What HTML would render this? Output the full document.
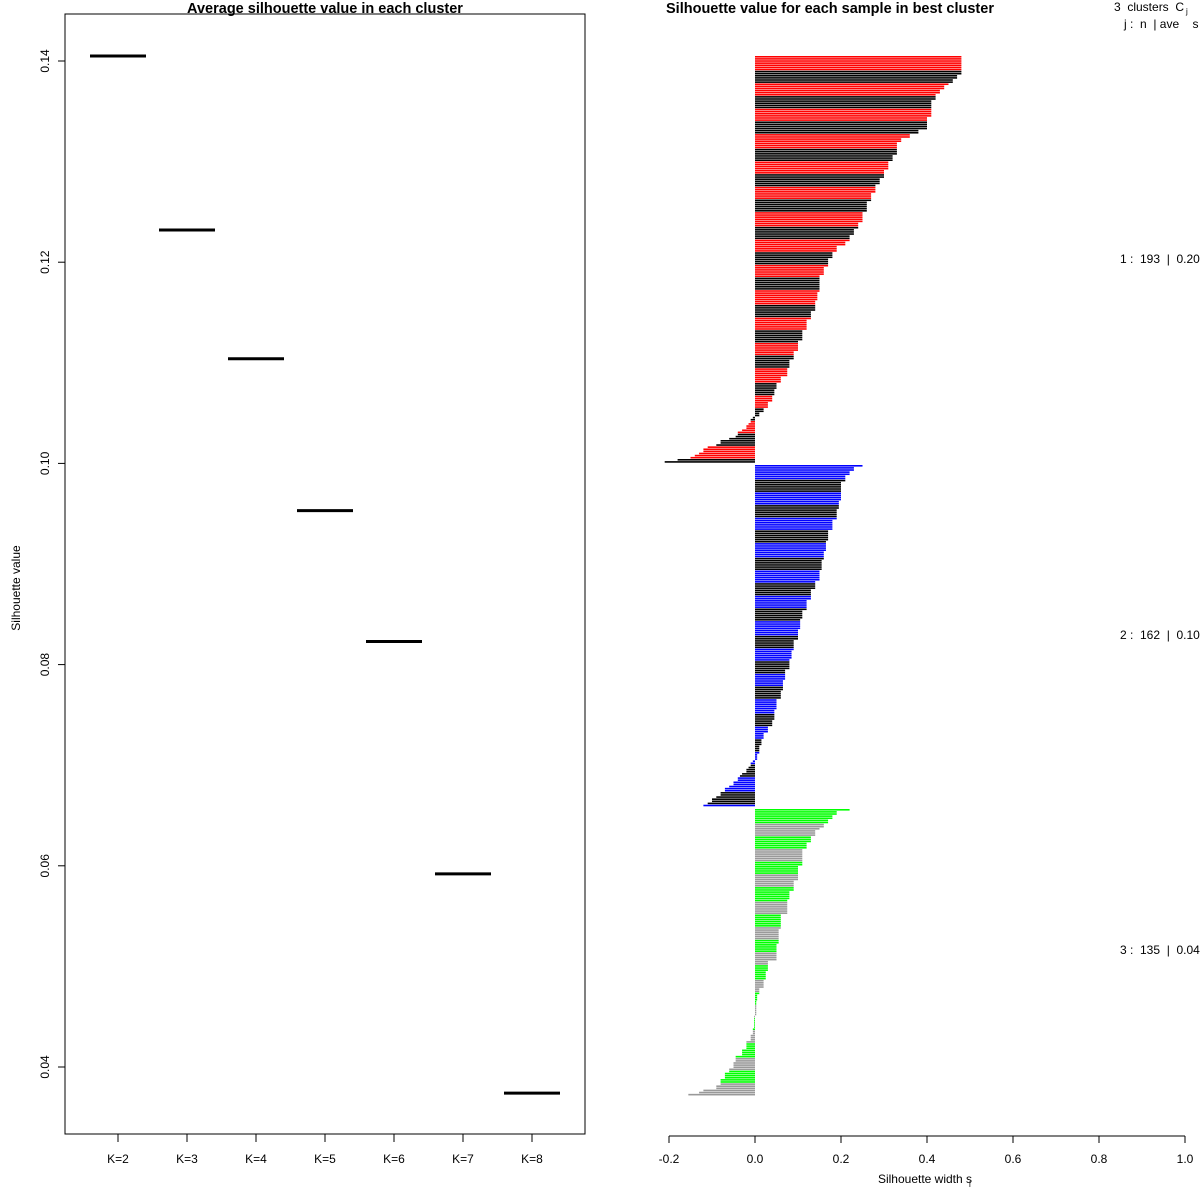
<!DOCTYPE html>
<html><head><meta charset="utf-8"><style>
html,body{margin:0;padding:0;background:#fff;}
svg{display:block;font-family:"Liberation Sans",sans-serif;}
text{white-space:pre;}
</style></head><body>
<svg id="chart" width="1200" height="1200" viewBox="0 0 1200 1200" xmlns="http://www.w3.org/2000/svg">
<g id="left"></g>
<g id="right"></g>
</svg>
<script>
// ---- left panel data ----
const kLabels = ["K=2","K=3","K=4","K=5","K=6","K=7","K=8"];
const avgSil = [0.1405,0.1232,0.1104,0.0953,0.0823,0.0592,0.0374];
const yTicks = [0.04,0.06,0.08,0.10,0.12,0.14];
const yTickLabels = ["0.04","0.06","0.08","0.10","0.12","0.14"];
// ---- right panel data (run-length: value & count per cluster) ----
const c1Vals = [.48,.47,.46,.45,.44,.43,.42,.41,.40,.38,.36,.34,.33,.32,.31,.30,.29,.28,.27,.26,.25,.24,.23,.22,.21,.19,.18,.17,.16,.15,.145,.14,.13,.12,.11,.10,.09,.08,.075,.06,.05,.045,.04,.03,.02,.01,
 -.005,-.01,-.01,-.015,-.02,-.02,-.03,-.04,-.04,-.045,-.06,-.08,-.08,-.09,-.11,-.12,-.12,-.13,-.14,-.15,-.18,-.21];
const c1Counts = [9,2,2,1,2,2,3,8,6,2,2,2,6,3,4,4,3,4,4,5,5,3,3,3,2,3,3,4,4,8,4,5,4,5,5,5,4,4,4,3,3,3,3,3,2,2,
 1,1,1,1,1,1,1,1,1,1,1,1,1,1,1,1,1,1,1,1,1,1];
const c2Vals = [.25,.23,.22,.21,.20,.195,.19,.18,.17,.165,.16,.155,.15,.14,.13,.12,.11,.105,.10,.09,.085,.08,.07,.065,.06,.05,.045,.04,.03,.02,.015,.01,.005,
 -.005,-.01,-.01,-.015,-.02,-.02,-.03,-.035,-.04,-.04,-.05,-.05,-.06,-.07,-.07,-.08,-.08,-.09,-.10,-.10,-.11,-.12];
const c2Counts = [1,2,2,3,9,4,5,5,5,5,4,5,5,4,5,5,4,5,5,5,4,5,5,5,4,5,5,3,3,3,3,4,3,
 1,1,1,1,1,1,1,1,1,1,1,1,1,1,1,1,1,1,1,1,1,1];
const c3Vals = [.22,.19,.18,.17,.16,.15,.14,.13,.12,.11,.10,.09,.08,.075,.06,.055,.05,.03,.025,.02,.01,.005,.003,
 -.002,-.005,-.01,-.02,-.03,-.045,-.05,-.06,-.07,-.08,-.09,-.12,-.13,-.155];
const c3Counts = [1,2,2,2,2,1,3,3,3,8,7,5,4,7,7,7,8,5,4,4,3,3,7,
 6,3,3,4,3,3,3,2,3,3,2,1,1,1];
const clusterLabels = ["1 :  193  |  0.20","2 :  162  |  0.10","3 :  135  |  0.04"];
const xTicks = [-0.2,0,0.2,0.4,0.6,0.8,1.0];
const xTickLabels = ["-0.2","0.0","0.2","0.4","0.6","0.8","1.0"];

const NS="http://www.w3.org/2000/svg";
function mk(parent, tag, attrs, text){
  const e=document.createElementNS(NS,tag);
  for(const k in attrs) e.setAttribute(k,attrs[k]);
  if(text!==undefined) e.textContent=text;
  parent.appendChild(e); return e;
}
const L=document.getElementById('left'), R=document.getElementById('right');

// ---------- left ----------
const yL = v => 61 + (0.14 - v) * 10060;
const xK = i => 118 + 69 * i;
let e;
e=mk(L,'rect',{x:65,y:14,width:520,height:1120,fill:'none',stroke:'#000','stroke-width':1});


e=mk(L,'text',{x:325,y:13,'text-anchor':'middle','font-size':14.5,'font-weight':'bold'},'Average silhouette value in each cluster');


yTicks.forEach((v,i)=>{
  const y=yL(v);
  e=mk(L,'line',{x1:58,x2:65,y1:y,y2:y,stroke:'#000'});
  
  
  e=mk(L,'text',{x:0,y:0,'text-anchor':'middle','font-size':12,transform:`translate(49,${y}) rotate(-90)`},yTickLabels[i]);
  
  
});
e=mk(L,'text',{x:0,y:0,'text-anchor':'middle','font-size':12,transform:'translate(20,588) rotate(-90)'},'Silhouette value');


e=mk(L,'line',{x1:xK(0),x2:xK(6),y1:1134,y2:1134,stroke:'#000'});


kLabels.forEach((k,i)=>{
  const x=xK(i);
  e=mk(L,'line',{x1:x,x2:x,y1:1134,y2:1142,stroke:'#000'});
  
  
  e=mk(L,'text',{x:x,y:1163,'text-anchor':'middle','font-size':12},k);
  
  
  const y=yL(avgSil[i]);
  e=mk(L,'line',{x1:x-28,x2:x+28,y1:y,y2:y,stroke:'#000','stroke-width':3});
  
  
});

// ---------- right ----------
const xR = v => 755 + v * 430;
const barH = 2.11;
const starts=[56,465,809];
const colors=['#ff0000','#0000ff','#00ff00'];
const alt=['#000','#000','#999'];
[[c1Vals,c1Counts],[c2Vals,c2Counts],[c3Vals,c3Counts]].forEach((c,ci)=>{
  let y=starts[ci];
  c[0].forEach((v,j)=>{
    for(let n=0;n<c[1][j];n++){
      const x0=Math.min(xR(0),xR(v)), w=Math.abs(xR(v)-xR(0));
      const band=Math.floor((y-starts[ci])/13)%2;
      e=mk(R,'rect',{x:x0,y:y,width:Math.max(w,0.8),height:1.6,fill:band?alt[ci]:colors[ci]});
      
      
      y+=barH;
    }
  });
});
e=mk(R,'line',{x1:xR(-0.2),x2:xR(1.0),y1:1136,y2:1136,stroke:'#000'});


xTicks.forEach((v,i)=>{
  const x=xR(v);
  e=mk(R,'line',{x1:x,x2:x,y1:1136,y2:1143,stroke:'#000'});
  
  
  e=mk(R,'text',{x:x,y:1163,'text-anchor':'middle','font-size':12},xTickLabels[i]);
  
  
});
e=mk(R,'text',{x:925,y:1183,'text-anchor':'middle','font-size':12},'Silhouette width s');


e=mk(R,'text',{x:969,y:1187,'font-size':8},'i');


e=mk(R,'text',{x:666,y:13,'font-size':14.5,'font-weight':'bold'},'Silhouette value for each sample in best cluster');


e=mk(R,'text',{x:1114,y:11,'font-size':12},'3  clusters  C');


e=mk(R,'text',{x:1186,y:14,'font-size':8},'j');


e=mk(R,'text',{x:1124,y:28,'font-size':12},'j :  n  | ave    s');


clusterLabels.forEach((t,i)=>{
  e=mk(R,'text',{x:1120,y:[263,639,954][i],'font-size':12},t);
  
  
});
</script>
</body></html>
